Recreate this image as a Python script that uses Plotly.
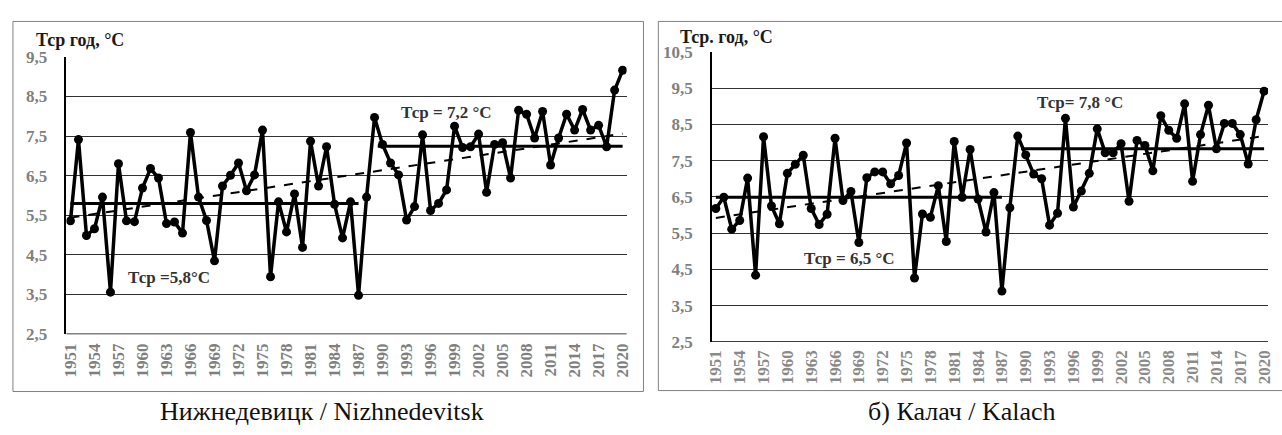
import numpy as np
import plotly.graph_objects as go

years = list(range(1951, 2021))

nizhnedevitsk = [5.36, 7.41, 4.99, 5.16, 5.96, 3.56, 6.80, 5.36, 5.34, 6.19,
                 6.68, 6.44, 5.29, 5.33, 5.05, 7.59, 5.96, 5.37, 4.35, 6.24,
                 6.51, 6.82, 6.12, 6.52, 7.65, 3.95, 5.84, 5.08, 6.04, 4.69,
                 7.37, 6.24, 7.23, 5.78, 4.93, 5.84, 3.48, 5.96, 7.97, 7.29,
                 6.82, 6.52, 5.38, 5.72, 7.53, 5.62, 5.80, 6.14, 7.75, 7.21,
                 7.23, 7.55, 6.08, 7.29, 7.33, 6.44, 8.15, 8.05, 7.45, 8.12,
                 6.77, 7.45, 8.05, 7.65, 8.17, 7.65, 7.77, 7.23, 8.66, 9.16]

kalach = [6.18, 6.49, 5.61, 5.85, 7.02, 4.34, 8.16, 6.25, 5.76, 7.15,
          7.40, 7.65, 6.18, 5.74, 6.02, 8.12, 6.40, 6.65, 5.24, 7.03,
          7.19, 7.19, 6.86, 7.09, 7.99, 4.26, 6.03, 5.94, 6.81, 5.27,
          8.03, 6.49, 7.81, 6.44, 5.53, 6.62, 3.90, 6.20, 8.18, 7.66,
          7.13, 7.00, 5.72, 6.05, 8.67, 6.22, 6.66, 7.15, 8.38, 7.72,
          7.72, 7.97, 6.38, 8.06, 7.92, 7.22, 8.74, 8.34, 8.12, 9.07,
          6.93, 8.22, 9.03, 7.83, 8.53, 8.53, 8.22, 7.41, 8.63, 9.42]

# period means (level, start year, end year)
niz_means = [(5.80, 1951, 1987), (7.24, 1989.4, 2020)]
kal_means = [(6.49, 1951, 1987), (7.83, 1989.4, 2020)]

niz_trend = (5.44, 7.56)   # trend value at 1951 and 2020
kal_trend = (5.92, 8.18)

x_ticks = list(range(1951, 2021, 3))
niz_yticks = [2.5, 3.5, 4.5, 5.5, 6.5, 7.5, 8.5, 9.5]
kal_yticks = [2.5, 3.5, 4.5, 5.5, 6.5, 7.5, 8.5, 9.5, 10.5]

W, H = 1282, 435
SERIF = "Liberation Serif, Times New Roman, Times, DejaVu Serif, serif"

fig = go.Figure()


def add_panel(vals, means, trend, xa, ya):
    fig.add_trace(go.Scatter(
        x=[years[0], years[-1]], y=list(trend), mode="lines",
        line=dict(color="black", width=2, dash="dash"),
        xaxis=xa, yaxis=ya, showlegend=False, hoverinfo="skip"))
    for lvl, x0, x1 in means:
        fig.add_trace(go.Scatter(
            x=[x0, x1], y=[lvl, lvl], mode="lines",
            line=dict(color="black", width=3),
            xaxis=xa, yaxis=ya, showlegend=False, hoverinfo="skip"))
    fig.add_trace(go.Scatter(
        x=years, y=vals, mode="lines+markers",
        line=dict(color="black", width=3.5),
        marker=dict(color="black", size=9),
        xaxis=xa, yaxis=ya, showlegend=False))


add_panel(nizhnedevitsk, niz_means, niz_trend, "x", "y")
add_panel(kalach, kal_means, kal_trend, "x2", "y2")


def px_x(a, b):
    return [a / W, b / W]


def px_y(top, bottom):
    return [(H - bottom) / H, (H - top) / H]


def fmt(v):
    return f"<b>{v:.1f}</b>".replace(".", ",")


xcommon = dict(range=[1950.5, 2020.5], tickmode="array", tickvals=x_ticks,
               ticktext=[f"<b>{t}</b>" for t in x_ticks], tickangle=-90,
               showgrid=False, zeroline=False, showline=False, ticks="")

fig.update_layout(
    width=W, height=H, margin=dict(l=0, r=0, t=0, b=0),
    paper_bgcolor="white", plot_bgcolor="white",
    xaxis=dict(domain=px_x(62, 627), anchor="y", ticklabelstandoff=5,
               tickfont=dict(family=SERIF, size=17, color="#7f7f7f"),
               **xcommon),
    yaxis=dict(domain=px_y(50, 340), anchor="x", range=[2.5, 9.5],
               tickmode="array", tickvals=niz_yticks,
               ticktext=[fmt(v) for v in niz_yticks],
               showgrid=True, gridcolor="#303030", gridwidth=1,
               zeroline=False, showline=True, linecolor="black", linewidth=1.5,
               ticks="", ticklabelstandoff=14,
               tickfont=dict(family=SERIF, size=17, color="#7f7f7f")),
    xaxis2=dict(domain=px_x(713, 1274), anchor="y2", ticklabelstandoff=4,
                tickfont=dict(family=SERIF, size=17, color="#8a8a8a"),
                **xcommon),
    yaxis2=dict(domain=px_y(45, 348), anchor="x2", range=[2.5, 10.5],
                tickmode="array", tickvals=kal_yticks,
                ticktext=[fmt(v) for v in kal_yticks],
                showgrid=True, gridcolor="#303030", gridwidth=1,
                zeroline=False, showline=True, linecolor="black", linewidth=1.5,
                ticks="", ticklabelstandoff=14,
                tickfont=dict(family=SERIF, size=17, color="#7f7f7f")),
)

# bottom axis line (the 2,5 gridline drawn heavier)
for xr, yr in [("x", "y"), ("x2", "y2")]:
    fig.add_shape(type="line", xref=f"{xr} domain", yref=yr, x0=0, x1=1, y0=2.5, y1=2.5,
                  line=dict(color="black", width=1.5))

# outer frames
fig.add_shape(type="rect", xref="paper", yref="paper",
              x0=8 / W, x1=644 / W, y0=(H - 400) / H, y1=(H - 13) / H,
              line=dict(color="#808080", width=1))
fig.add_shape(type="rect", xref="paper", yref="paper",
              x0=659 / W, x1=1300 / W, y0=(H - 399) / H, y1=(H - 13) / H,
              line=dict(color="#808080", width=1))


def ann(text, x, y, size=16, color="#333333", bold=True, xanchor="left"):
    fig.add_annotation(text=f"<b>{text}</b>" if bold else text,
                       xref="paper", yref="paper", x=x / W, y=(H - y) / H,
                       xanchor=xanchor, yanchor="middle", showarrow=False,
                       font=dict(family=SERIF, size=size, color=color))


ann("Тср год, °С", 29, 32, size=18, color="#1a1a1a")
ann("Тср. год, °С", 679, 29, size=18, color="#1a1a1a")
ann("Тср =5,8°С", 122, 281, size=17)
ann("Тср = 7,2 °С", 397, 108, size=17)
ann("Тср = 6,5 °С", 804, 261, size=17)
ann("Тср= 7,8 °С", 1039, 98, size=17)
ann("Нижнедевицк / Nizhnedevitsk", 320, 421, size=26, color="#111111",
    bold=False, xanchor="center")
ann("б) Калач / Kalach", 965, 421, size=26, color="#111111",
    bold=False, xanchor="center")

fig.write_html("out.html", config={"displayModeBar": False},
               post_script="document.body.style.margin='0';document.body.style.padding='0';")
